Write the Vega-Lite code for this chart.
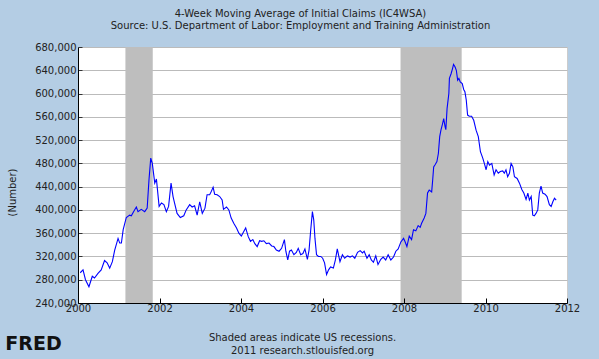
{
  "$schema": "https://vega.github.io/schema/vega-lite/v6.json",
  "width": 489,
  "height": 256,
  "autosize": {"type": "none"},
  "padding": {"left": 78, "top": 47, "right": 32, "bottom": 56},
  "background": "#B4CDE4",
  "title": {
    "text": ["4-Week Moving Average of Initial Claims (IC4WSA)", "Source: U.S. Department of Labor: Employment and Training Administration"],
    "anchor": "middle",
    "dx": -22,
    "font": "DejaVu Sans",
    "fontSize": 10,
    "fontWeight": "normal",
    "color": "#222222",
    "lineHeight": 12,
    "offset": 11
  },
  "config": {
    "font": "DejaVu Sans",
    "view": {"fill": "white", "stroke": "#CCCCCC"}
  },
  "datasets": {
    "recessions": [
      {"start": "2001-03-01", "end": "2001-11-01"},
      {"start": "2007-12-01", "end": "2009-06-01"}
    ],
    "claims": [
      {"date": "2000-01-21", "value": 292000},
      {"date": "2000-02-15", "value": 297000},
      {"date": "2000-03-08", "value": 280000},
      {"date": "2000-04-08", "value": 268000},
      {"date": "2000-05-08", "value": 286000},
      {"date": "2000-05-28", "value": 283000},
      {"date": "2000-06-28", "value": 291000},
      {"date": "2000-07-27", "value": 297000},
      {"date": "2000-08-26", "value": 313000},
      {"date": "2000-09-18", "value": 309000},
      {"date": "2000-10-11", "value": 300000},
      {"date": "2000-11-04", "value": 311000},
      {"date": "2000-11-25", "value": 331000},
      {"date": "2000-12-25", "value": 351000},
      {"date": "2001-01-09", "value": 343000},
      {"date": "2001-01-24", "value": 343000},
      {"date": "2001-02-09", "value": 366000},
      {"date": "2001-03-09", "value": 387000},
      {"date": "2001-04-08", "value": 391000},
      {"date": "2001-04-23", "value": 390000},
      {"date": "2001-05-13", "value": 397000},
      {"date": "2001-06-07", "value": 405000},
      {"date": "2001-06-22", "value": 397000},
      {"date": "2001-07-21", "value": 401000},
      {"date": "2001-08-21", "value": 397000},
      {"date": "2001-09-12", "value": 403000},
      {"date": "2001-09-28", "value": 451000},
      {"date": "2001-10-14", "value": 489000},
      {"date": "2001-10-28", "value": 480000},
      {"date": "2001-11-19", "value": 446000},
      {"date": "2001-12-04", "value": 453000},
      {"date": "2001-12-28", "value": 406000},
      {"date": "2002-01-18", "value": 412000},
      {"date": "2002-02-09", "value": 409000},
      {"date": "2002-03-03", "value": 397000},
      {"date": "2002-03-23", "value": 406000},
      {"date": "2002-04-14", "value": 446000},
      {"date": "2002-05-02", "value": 423000},
      {"date": "2002-05-13", "value": 414000},
      {"date": "2002-06-07", "value": 394000},
      {"date": "2002-07-06", "value": 387000},
      {"date": "2002-08-06", "value": 390000},
      {"date": "2002-08-28", "value": 400000},
      {"date": "2002-09-28", "value": 409000},
      {"date": "2002-10-20", "value": 405000},
      {"date": "2002-11-11", "value": 407000},
      {"date": "2002-12-04", "value": 391000},
      {"date": "2002-12-27", "value": 414000},
      {"date": "2003-01-19", "value": 394000},
      {"date": "2003-02-12", "value": 403000},
      {"date": "2003-03-03", "value": 426000},
      {"date": "2003-03-26", "value": 426000},
      {"date": "2003-04-08", "value": 431000},
      {"date": "2003-04-26", "value": 439000},
      {"date": "2003-05-10", "value": 427000},
      {"date": "2003-06-01", "value": 426000},
      {"date": "2003-06-24", "value": 423000},
      {"date": "2003-07-16", "value": 417000},
      {"date": "2003-07-28", "value": 401000},
      {"date": "2003-08-24", "value": 405000},
      {"date": "2003-09-14", "value": 400000},
      {"date": "2003-10-05", "value": 386000},
      {"date": "2003-10-28", "value": 377000},
      {"date": "2003-11-22", "value": 369000},
      {"date": "2003-12-13", "value": 360000},
      {"date": "2004-01-04", "value": 355000},
      {"date": "2004-01-21", "value": 361000},
      {"date": "2004-02-12", "value": 369000},
      {"date": "2004-03-06", "value": 354000},
      {"date": "2004-03-26", "value": 346000},
      {"date": "2004-04-16", "value": 349000},
      {"date": "2004-05-04", "value": 342000},
      {"date": "2004-05-25", "value": 337000},
      {"date": "2004-06-16", "value": 347000},
      {"date": "2004-07-04", "value": 346000},
      {"date": "2004-07-24", "value": 347000},
      {"date": "2004-08-15", "value": 342000},
      {"date": "2004-09-08", "value": 343000},
      {"date": "2004-10-02", "value": 338000},
      {"date": "2004-10-22", "value": 337000},
      {"date": "2004-11-13", "value": 331000},
      {"date": "2004-12-07", "value": 329000},
      {"date": "2004-12-30", "value": 334000},
      {"date": "2005-01-24", "value": 349000},
      {"date": "2005-02-06", "value": 329000},
      {"date": "2005-02-23", "value": 314000},
      {"date": "2005-03-11", "value": 329000},
      {"date": "2005-03-28", "value": 331000},
      {"date": "2005-04-19", "value": 323000},
      {"date": "2005-05-11", "value": 327000},
      {"date": "2005-05-28", "value": 334000},
      {"date": "2005-06-19", "value": 323000},
      {"date": "2005-07-09", "value": 325000},
      {"date": "2005-07-27", "value": 333000},
      {"date": "2005-08-18", "value": 315000},
      {"date": "2005-09-02", "value": 331000},
      {"date": "2005-09-17", "value": 366000},
      {"date": "2005-10-02", "value": 397000},
      {"date": "2005-10-14", "value": 383000},
      {"date": "2005-10-25", "value": 351000},
      {"date": "2005-11-08", "value": 323000},
      {"date": "2005-11-25", "value": 320000},
      {"date": "2005-12-16", "value": 320000},
      {"date": "2006-01-02", "value": 317000},
      {"date": "2006-01-19", "value": 309000},
      {"date": "2006-02-06", "value": 289000},
      {"date": "2006-02-24", "value": 297000},
      {"date": "2006-03-14", "value": 302000},
      {"date": "2006-04-08", "value": 300000},
      {"date": "2006-04-26", "value": 314000},
      {"date": "2006-05-13", "value": 333000},
      {"date": "2006-06-06", "value": 311000},
      {"date": "2006-06-28", "value": 323000},
      {"date": "2006-07-18", "value": 317000},
      {"date": "2006-08-12", "value": 321000},
      {"date": "2006-09-05", "value": 319000},
      {"date": "2006-09-26", "value": 321000},
      {"date": "2006-10-17", "value": 317000},
      {"date": "2006-11-11", "value": 327000},
      {"date": "2006-12-04", "value": 330000},
      {"date": "2006-12-25", "value": 326000},
      {"date": "2007-01-09", "value": 329000},
      {"date": "2007-02-03", "value": 317000},
      {"date": "2007-02-23", "value": 323000},
      {"date": "2007-03-14", "value": 314000},
      {"date": "2007-04-02", "value": 310000},
      {"date": "2007-04-23", "value": 321000},
      {"date": "2007-05-13", "value": 306000},
      {"date": "2007-06-07", "value": 315000},
      {"date": "2007-06-28", "value": 319000},
      {"date": "2007-07-21", "value": 314000},
      {"date": "2007-08-12", "value": 323000},
      {"date": "2007-09-05", "value": 314000},
      {"date": "2007-09-29", "value": 319000},
      {"date": "2007-10-20", "value": 329000},
      {"date": "2007-11-10", "value": 333000},
      {"date": "2007-12-04", "value": 345000},
      {"date": "2007-12-28", "value": 351000},
      {"date": "2008-01-09", "value": 346000},
      {"date": "2008-01-27", "value": 337000},
      {"date": "2008-02-17", "value": 355000},
      {"date": "2008-03-09", "value": 349000},
      {"date": "2008-03-26", "value": 366000},
      {"date": "2008-04-16", "value": 364000},
      {"date": "2008-05-07", "value": 373000},
      {"date": "2008-05-25", "value": 370000},
      {"date": "2008-06-07", "value": 377000},
      {"date": "2008-06-30", "value": 386000},
      {"date": "2008-07-15", "value": 394000},
      {"date": "2008-07-30", "value": 429000},
      {"date": "2008-08-14", "value": 434000},
      {"date": "2008-09-05", "value": 431000},
      {"date": "2008-09-14", "value": 451000},
      {"date": "2008-09-23", "value": 474000},
      {"date": "2008-10-07", "value": 478000},
      {"date": "2008-10-22", "value": 483000},
      {"date": "2008-11-04", "value": 497000},
      {"date": "2008-11-16", "value": 526000},
      {"date": "2008-11-27", "value": 537000},
      {"date": "2008-12-09", "value": 546000},
      {"date": "2008-12-22", "value": 557000},
      {"date": "2009-01-03", "value": 543000},
      {"date": "2009-01-10", "value": 538000},
      {"date": "2009-01-21", "value": 574000},
      {"date": "2009-02-06", "value": 600000},
      {"date": "2009-02-11", "value": 626000},
      {"date": "2009-02-26", "value": 634000},
      {"date": "2009-03-11", "value": 643000},
      {"date": "2009-03-20", "value": 650000},
      {"date": "2009-04-02", "value": 646000},
      {"date": "2009-04-14", "value": 640000},
      {"date": "2009-04-26", "value": 623000},
      {"date": "2009-05-07", "value": 626000},
      {"date": "2009-05-19", "value": 620000},
      {"date": "2009-06-06", "value": 617000},
      {"date": "2009-06-19", "value": 607000},
      {"date": "2009-06-30", "value": 603000},
      {"date": "2009-07-12", "value": 589000},
      {"date": "2009-07-24", "value": 563000},
      {"date": "2009-08-08", "value": 561000},
      {"date": "2009-08-29", "value": 561000},
      {"date": "2009-09-17", "value": 554000},
      {"date": "2009-10-08", "value": 537000},
      {"date": "2009-10-28", "value": 526000},
      {"date": "2009-11-16", "value": 500000},
      {"date": "2009-12-07", "value": 489000},
      {"date": "2009-12-21", "value": 480000},
      {"date": "2010-01-06", "value": 469000},
      {"date": "2010-01-21", "value": 483000},
      {"date": "2010-02-05", "value": 477000},
      {"date": "2010-02-26", "value": 480000},
      {"date": "2010-03-19", "value": 460000},
      {"date": "2010-04-05", "value": 469000},
      {"date": "2010-04-25", "value": 463000},
      {"date": "2010-05-13", "value": 466000},
      {"date": "2010-06-04", "value": 467000},
      {"date": "2010-06-18", "value": 463000},
      {"date": "2010-07-03", "value": 469000},
      {"date": "2010-07-18", "value": 457000},
      {"date": "2010-08-03", "value": 463000},
      {"date": "2010-08-18", "value": 480000},
      {"date": "2010-09-03", "value": 474000},
      {"date": "2010-09-17", "value": 457000},
      {"date": "2010-10-11", "value": 454000},
      {"date": "2010-11-01", "value": 446000},
      {"date": "2010-11-22", "value": 435000},
      {"date": "2010-12-10", "value": 429000},
      {"date": "2010-12-30", "value": 418000},
      {"date": "2011-01-15", "value": 429000},
      {"date": "2011-01-29", "value": 417000},
      {"date": "2011-02-14", "value": 423000},
      {"date": "2011-02-28", "value": 391000},
      {"date": "2011-03-14", "value": 390000},
      {"date": "2011-03-29", "value": 394000},
      {"date": "2011-04-14", "value": 400000},
      {"date": "2011-04-28", "value": 429000},
      {"date": "2011-05-13", "value": 441000},
      {"date": "2011-05-28", "value": 429000},
      {"date": "2011-06-18", "value": 427000},
      {"date": "2011-07-06", "value": 423000},
      {"date": "2011-07-27", "value": 409000},
      {"date": "2011-08-12", "value": 406000},
      {"date": "2011-08-27", "value": 414000},
      {"date": "2011-09-11", "value": 420000},
      {"date": "2011-09-26", "value": 417000}
    ]
  },
  "layer": [
    {
      "data": {"name": "recessions"},
      "mark": {"type": "rect", "color": "#BEBEBE"},
      "encoding": {
        "x": {
          "field": "start",
          "type": "temporal",
          "scale": {"domain": ["2000-01-01", "2012-01-01"]},
          "axis": {
            "orient": "top",
            "title": "FRED",
            "labels": false,
            "ticks": false,
            "domain": false,
            "grid": false,
            "titleFont": "DejaVu Sans",
            "titleFontWeight": "bold",
            "titleFontSize": 19,
            "titleColor": "#111111",
            "titleAlign": "center",
            "titleBaseline": "middle",
            "titleX": -45,
            "titleY": 296
          }
        },
        "x2": {"field": "end"}
      }
    },
    {
      "data": {"name": "claims"},
      "mark": {"type": "line", "color": "#0000FF", "strokeWidth": 1.1},
      "encoding": {
        "x": {
          "field": "date",
          "type": "temporal",
          "scale": {"domain": ["2000-01-01", "2012-01-01"]},
          "axis": {
            "orient": "bottom",
            "tickCount": {"interval": "year", "step": 2},
            "format": "%Y",
            "labelFlush": false,
            "labelFont": "DejaVu Sans",
            "labelFontSize": 10,
            "labelColor": "#222222",
            "labelPadding": 5,
            "tickSize": -5,
            "tickColor": "#000000",
            "domainColor": "#000000",
            "grid": false,
            "zindex": 1,
            "title": ["Shaded areas indicate US recessions.", "2011 research.stlouisfed.org"],
            "titleFont": "DejaVu Sans",
            "titleFontSize": 10,
            "titleFontWeight": "normal",
            "titleColor": "#222222",
            "titleLineHeight": 13,
            "titleAlign": "center",
            "titleBaseline": "top",
            "titleX": 224,
            "titleY": 29
          }
        },
        "y": {
          "field": "value",
          "type": "quantitative",
          "scale": {"domain": [240000, 680000]},
          "axis": {
            "values": [240000, 280000, 320000, 360000, 400000, 440000, 480000, 520000, 560000, 600000, 640000, 680000],
            "format": ",d",
            "labelFont": "DejaVu Sans",
            "labelFontSize": 10,
            "labelColor": "#222222",
            "labelPadding": 6,
            "tickSize": -4,
            "tickColor": "#333333",
            "domainColor": "#000000",
            "grid": true,
            "gridColor": "#BBBBBB",
            "title": "(Number)",
            "titleFont": "DejaVu Sans",
            "titleFontSize": 10,
            "titleFontWeight": "normal",
            "titleColor": "#222222",
            "titleAngle": -90,
            "titleAlign": "center",
            "titleBaseline": "middle",
            "titleX": -66,
            "titleY": 145
          }
        }
      }
    }
  ],
  "resolve": {"axis": {"x": "independent"}}
}
